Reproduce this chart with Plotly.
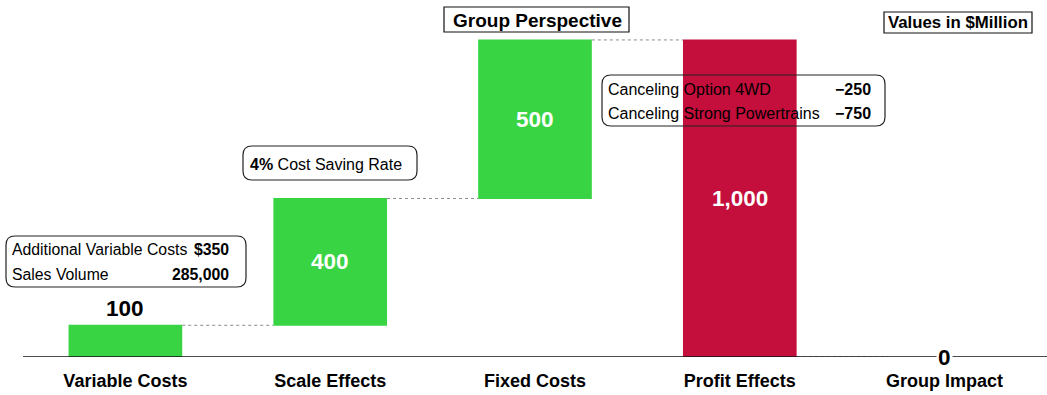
import plotly.graph_objects as go

# ---- data ----
categories = ["Variable Costs", "Scale Effects", "Fixed Costs", "Profit Effects", "Group Impact"]
measures = ["absolute", "relative", "relative", "relative", "total"]
values = [100, 400, 500, -1000, 0]

box1_labels = ["Additional Variable Costs", "Sales Volume"]
box1_values = ["$350", "285,000"]
box2_bold = "4%"
box2_text = "Cost Saving Rate"
box3_labels = ["Canceling Option 4WD", "Canceling Strong Powertrains"]
box3_values = ["\u2212250", "\u2212750"]
title_text = "Group Perspective"
units_text = "Values in $Million"

GREEN = "#39D443"
RED = "#C40E3C"
FONT = "Liberation Sans, Arial, sans-serif"

W, H = 1047, 395
L, R, T, B = 23, 0, 0, 38
PW, PH = W - L - R, H - T - B


def px(x):
    return (x - L) / PW


def py(y):
    return (H - B - y) / PH


def rrect(x0, y0, x1, y1, r):
    pts = [
        ("M", [(x0 + r, y0)]),
        ("L", [(x1 - r, y0)]),
        ("Q", [(x1, y0), (x1, y0 + r)]),
        ("L", [(x1, y1 - r)]),
        ("Q", [(x1, y1), (x1 - r, y1)]),
        ("L", [(x0 + r, y1)]),
        ("Q", [(x0, y1), (x0, y1 - r)]),
        ("L", [(x0, y0 + r)]),
        ("Q", [(x0, y0), (x0 + r, y0)]),
    ]
    s = ""
    for cmd, ps in pts:
        s += cmd + " " + " ".join(f"{px(a):.5f},{py(b):.5f}" for a, b in ps) + " "
    return s + "Z"


fig = go.Figure()
fig.add_trace(go.Waterfall(
    x=categories,
    y=values,
    measure=measures,
    width=[0.555] * len(values),
    increasing=dict(marker=dict(color=GREEN, line=dict(width=0))),
    decreasing=dict(marker=dict(color=RED, line=dict(width=0))),
    totals=dict(marker=dict(color=GREEN, line=dict(width=0))),
    connector=dict(mode="between", line=dict(color="#8a8a8a", width=1, dash="dot")),
    textinfo="none",
    hoverinfo="skip",
))

annotations = []
# value labels derived from data
cum = 0
for i, (c, m, v) in enumerate(zip(categories, measures, values)):
    if m == "absolute":
        start, end = 0, v
        cum = v
    elif m == "relative":
        start, end = cum, cum + v
        cum = cum + v
    else:
        start, end = 0, cum
    label = f"{abs(end - start):,}" if m != "total" else f"{cum:,}"
    if m == "absolute":
        annotations.append(dict(x=c, y=max(start, end), xref="x", yref="y", text=f"<b>{label}</b>",
                                showarrow=False, yanchor="bottom", yshift=2,
                                font=dict(family=FONT, size=22.5, color="black")))
    elif m == "relative":
        annotations.append(dict(x=c, y=(start + end) / 2, xref="x", yref="y", text=f"<b>{label}</b>",
                                showarrow=False, yanchor="middle",
                                font=dict(family=FONT, size=22.5, color="white")))
    else:
        annotations.append(dict(x=c, y=end, xref="x", yref="y", text=f"<b>{label}</b>",
                                showarrow=False, yanchor="middle", bgcolor="white", borderpad=1,
                                font=dict(family=FONT, size=22.5, color="black")))


def txt(x, y, text, anchor="left", size=16, bold=False):
    t = f"<b>{text}</b>" if bold else text
    annotations.append(dict(x=px(x), y=py(y), xref="paper", yref="paper", text=t, showarrow=False,
                            xanchor=anchor, yanchor="middle", borderpad=0,
                            font=dict(family=FONT, size=size, color="black")))


# box 1
txt(11, 249, box1_labels[0], size=15.8)
txt(230, 249, box1_values[0], anchor="right", bold=True, size=15.8)
txt(11, 274, box1_labels[1], size=15.8)
txt(230, 274, box1_values[1], anchor="right", bold=True, size=15.8)
# box 2
txt(249, 164, f"<b>{box2_bold}</b> {box2_text}")
# box 3
txt(607, 89, box3_labels[0])
txt(872, 89, box3_values[0], anchor="right", bold=True)
txt(607, 114, box3_labels[1])
txt(872, 114, box3_values[1], anchor="right", bold=True)
# titles
txt(537, 20, title_text, anchor="center", size=19, bold=True)
txt(958, 22, units_text, anchor="center", size=16.8, bold=True)

shapes = [
    dict(type="path", xref="paper", yref="paper", path=rrect(6, 236, 246, 287, 9),
         line=dict(color="#222", width=1.2)),
    dict(type="path", xref="paper", yref="paper", path=rrect(243, 146, 417, 180, 9),
         line=dict(color="#222", width=1.2)),
    dict(type="path", xref="paper", yref="paper", path=rrect(602, 75, 885, 126, 9),
         line=dict(color="#222", width=1.2)),
    dict(type="rect", xref="paper", yref="paper", x0=px(444), x1=px(629), y0=py(32), y1=py(7),
         line=dict(color="#111", width=1.2)),
    dict(type="rect", xref="paper", yref="paper", x0=px(884), x1=px(1032), y0=py(33), y1=py(12),
         line=dict(color="#111", width=1.2)),
    # baseline
    dict(type="line", xref="paper", yref="y", x0=0, x1=1, y0=0, y1=0, layer="above",
         line=dict(color="#111", width=1.6)),
]

fig.update_layout(
    width=W, height=H,
    margin=dict(l=L, r=R, t=T, b=B),
    paper_bgcolor="white", plot_bgcolor="white",
    showlegend=False,
    annotations=annotations,
    shapes=shapes,
    xaxis=dict(type="category", showline=False,
               showgrid=False, zeroline=False, ticks="", ticklabelstandoff=11,
               tickfont=dict(family=FONT, size=18, color="black", weight="bold")),
    yaxis=dict(range=[0, 1126], visible=False, showgrid=False, zeroline=False),
)

fig.write_html("out.html")
